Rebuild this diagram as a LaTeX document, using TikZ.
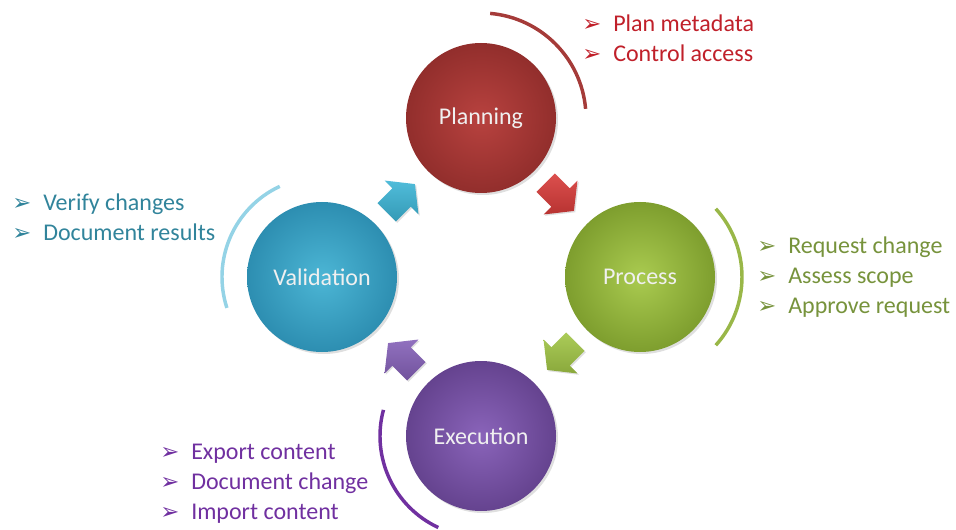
\documentclass[tikz,border=0pt]{standalone}
\usepackage{fontspec}
\setmainfont{Carlito}
\newfontfamily\dingfont{DejaVu Sans}
\usetikzlibrary{shadows,calc}

% stage colours: light, dark, text
\definecolor{planA}{HTML}{B8423F}\definecolor{planB}{HTML}{922E2C}\definecolor{planT}{HTML}{C0202A}
\definecolor{procA}{HTML}{AACB50}\definecolor{procB}{HTML}{7E9E2E}\definecolor{procT}{HTML}{77933C}
\definecolor{execA}{HTML}{8A64BA}\definecolor{execB}{HTML}{65438F}\definecolor{execT}{HTML}{7030A0}
\definecolor{validA}{HTML}{4CB6D5}\definecolor{validB}{HTML}{2D8EB1}\definecolor{validT}{HTML}{31849B}
% arrow colours
\definecolor{planF}{HTML}{D83C3A}\definecolor{procF}{HTML}{A2C646}
\definecolor{execF}{HTML}{8561B8}\definecolor{validF}{HTML}{3DB5D6}

\newcommand\bul{\makebox[23.25pt][l]{\dingfont\fontsize{17}{17}\selectfont ➢}}

\begin{document}
\begin{tikzpicture}[x=.75pt, y=.75pt, every node/.style={font=\fontsize{18}{22}\selectfont},
  stage/.style={circle, minimum size=112.5pt, inner sep=0, text=white!94!black,
    drop shadow={shadow xshift=1.5pt, shadow yshift=-1.5pt, opacity=.25}},
  flow/.style={drop shadow={shadow xshift=1pt, shadow yshift=-1pt, opacity=.25}},
  ring/.style={line width=2.6pt},
  item/.style={anchor=base west, inner sep=0}]
  \useasboundingbox (0,0) rectangle (956,529);

  % the four stages
  \node[stage, inner color=planA, outer color=planB] (plan) at (481,411) {Planning};
  \node[stage, inner color=procA, outer color=procB] (proc) at (640,252) {Process};
  \node[stage, inner color=execA, outer color=execB] (exec) at (481,93) {Execution};
  \node[stage, inner color=validA, outer color=validB] (valid) at (322,252) {Validation};

  % block arrows half way between stages
  \foreach \a/\b/\r/\c in {plan/proc/-45/plan, proc/exec/-135/proc, exec/valid/135/exec, valid/plan/45/valid} {
    \coordinate (\a-\b) at ($(\a)!.5!(\b)$);
    \shade[flow, shift={(\a-\b)}, rotate=\r, shading angle=\r+45, top color=\c F!90!white, bottom color=\c F!85!black]
      (-21,-13) -- (0,-13) -- (0,-24) -- (19,0) -- (0,24) -- (0,13) -- (-21,13) -- cycle;
  }

  % rings beside each stage
  \draw[ring, planA!90!black] ([shift={(85:105)}]plan.center) arc[start angle=85, end angle=5, radius=105];
  \draw[ring, procA!90!black] ([shift={(42:102)}]proc.center) arc[start angle=42, end angle=-42, radius=102];
  \draw[ring, execT] ([shift={(165:101)}]exec.center) arc[start angle=165, end angle=245, radius=101];
  \draw[ring, validA!60!white] ([shift={(115:100)}]valid.center) arc[start angle=115, end angle=198, radius=100];

  % task lists
  \foreach \t [count=\i] in {Plan metadata, Control access}
    \node[item, planT] (pl\i) at (582,{527-30*\i}) {\bul\t};
  \foreach \t [count=\i] in {Request change, Assess scope, Approve request}
    \node[item, procT] (pr\i) at (757,{306-30*\i}) {\bul\t};
  \foreach \t [count=\i] in {Export content, Document change, Import content}
    \node[item, execT] (ex\i) at (160,{100-30*\i}) {\bul\t};
  \foreach \t [count=\i] in {Verify changes, Document results}
    \node[item, validT] (va\i) at (12,{348-30*\i}) {\bul\t};
\end{tikzpicture}
\end{document}
